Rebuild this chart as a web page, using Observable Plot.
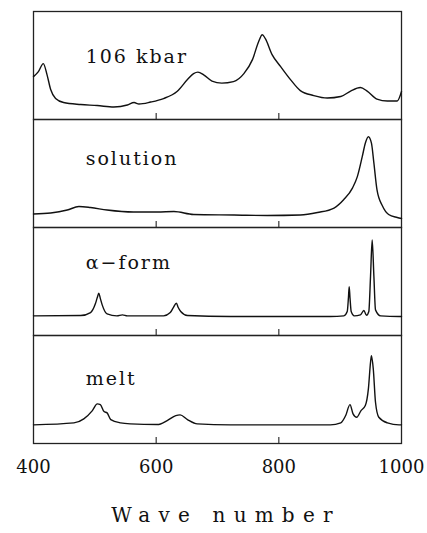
<!DOCTYPE html>
<html>
<head>
<meta charset="utf-8">
<script src="https://cdn.jsdelivr.net/npm/d3@7"></script>
<script src="https://cdn.jsdelivr.net/npm/@observablehq/plot@0.6"></script>
<style>
  html, body { margin: 0; padding: 0; background: #fff; }
  #chart svg { display: block; }
  #chart g[aria-label="text"] text { letter-spacing: 2px; }
  #caption {
    width: 427px;
    box-sizing: border-box;
    text-align: center;
    padding-left: 25px;
    margin-top: 18px;
    font-family: "DejaVu Serif", serif;
    font-size: 20px;
    line-height: 24px;
    letter-spacing: 8.2px;
    color: #111;
  }
</style>
</head>
<body>
<div id="chart"></div>
<div id="caption">Wave number</div>
<script>
// Panel names (top to bottom)
const panels = ["106 kbar", "solution", "α−form", "melt"];

// Spectrum 1: 106 kbar
const kbarWave = [400, 408, 416, 422, 428, 436, 449, 477, 504, 531, 553, 564, 572, 591, 612, 634, 651, 661, 668, 678, 691, 707, 726, 743, 757, 767, 773, 778, 789, 803, 819, 835, 857, 879, 901, 917, 933, 944, 960, 977, 993, 1000];
const kbarInt  = [43, 48, 56, 45, 30, 21, 17, 15, 14, 12.5, 14.5, 17, 15.5, 17.5, 21, 28, 40, 46, 47.5, 44.5, 38.5, 36.5, 38, 46, 60, 78, 85, 81, 65, 53, 40, 29, 24, 21.5, 23, 28.5, 32, 28.5, 20.5, 18.5, 18.5, 28];

// Spectrum 2: solution
const solWave = [400, 428, 455, 474, 493, 520, 563, 602, 629, 661, 727, 781, 835, 863, 890, 906, 920, 928, 936, 941, 946, 951, 955, 960, 969, 979, 993, 1000];
const solInt  = [13.5, 14.5, 17.5, 21, 20, 17.5, 15.5, 15.5, 16, 13, 12.5, 12, 12.5, 15, 19.5, 28, 39.5, 51, 71, 84.5, 91, 84.5, 64.5, 38, 21.5, 13, 10, 9];

// Spectrum 3: alpha-form
const alphaWave = [400, 477, 493, 501, 504, 506.5, 509, 512, 520, 536, 545, 553, 612, 623, 628, 633, 636, 640, 651, 721, 884, 906, 911.5, 913.5, 914.7, 916, 918, 923, 933, 938.6, 943, 946.7, 949.5, 952.2, 955, 957.6, 966, 996, 1000];
const alphaInt  = [19.7, 20, 23, 32, 38, 42.3, 37, 30.7, 21.7, 19.7, 20.7, 19.7, 19.7, 23, 28, 32.3, 28, 24, 20, 19, 19, 19.7, 24, 38, 49, 38, 24, 19.7, 20.7, 25, 20.3, 24, 59, 95.7, 59, 25.7, 19.7, 19, 19];

// Spectrum 4: melt
const meltWave = [400, 466, 482, 496, 504, 509, 515, 520, 526, 542, 558, 602, 618, 632, 639, 651, 667, 721, 884, 901, 909, 916, 921, 927, 934, 941, 946, 949.5, 951, 954, 957.6, 963, 977, 996, 1000];
const meltInt  = [18.7, 20.7, 24.7, 33, 39.7, 39, 32, 30.7, 24, 20.7, 19.7, 19, 23, 28, 28.7, 24, 19.7, 18.7, 18.7, 20.7, 28, 39, 29.7, 26.3, 33, 38, 54.7, 81.3, 88, 74.7, 41.3, 26.3, 20.7, 18.7, 18.7];

// Panel label anchors (wave number, intensity level of baseline)
const labelWave = [485, 485, 485, 485];
const labelLevel = [57, 63, 67, 59];

// Axis ticks
const xTicks = [400, 600, 800, 1000];
const innerTicks = [600, 800];

const spectra = [[kbarWave, kbarInt], [solWave, solInt], [alphaWave, alphaInt], [meltWave, meltInt]];
const rows = [];
spectra.forEach(([w, v], i) => w.forEach((x, j) => rows.push({panel: panels[i], w: x, v: v[j]})));
const labels = panels.map((p, i) => ({panel: p, w: labelWave[i], v: labelLevel[i]}));

const chart = Plot.plot({
  width: 427,
  height: 485,
  marginLeft: 33,
  marginRight: 26,
  marginTop: 10,
  marginBottom: 42,
  style: {fontFamily: "DejaVu Serif, serif", fontSize: "18px", color: "#111", background: "#fff"},
  x: {domain: [400, 1000], ticks: xTicks, tickSize: 0, tickPadding: 17, tickFormat: d => String(d), label: null},
  y: {domain: [0, 108.25], axis: null},
  fy: {domain: panels, axis: null, padding: 0},
  marks: [
    Plot.frame({stroke: "#222", strokeWidth: 1.3}),
    Plot.ruleX(innerTicks, {y1: 0, y2: 6, stroke: "#222", strokeWidth: 1.1}),
    Plot.lineY(rows, {fy: "panel", x: "w", y: "v", stroke: "#111", strokeWidth: 1.4, curve: "monotone-x"}),
    Plot.text(labels, {fy: "panel", x: "w", y: "v", text: "panel", textAnchor: "start", lineAnchor: "bottom", fontSize: 19, fill: "#111"})
  ]
});
document.getElementById("chart").appendChild(chart);
</script>
</body>
</html>
